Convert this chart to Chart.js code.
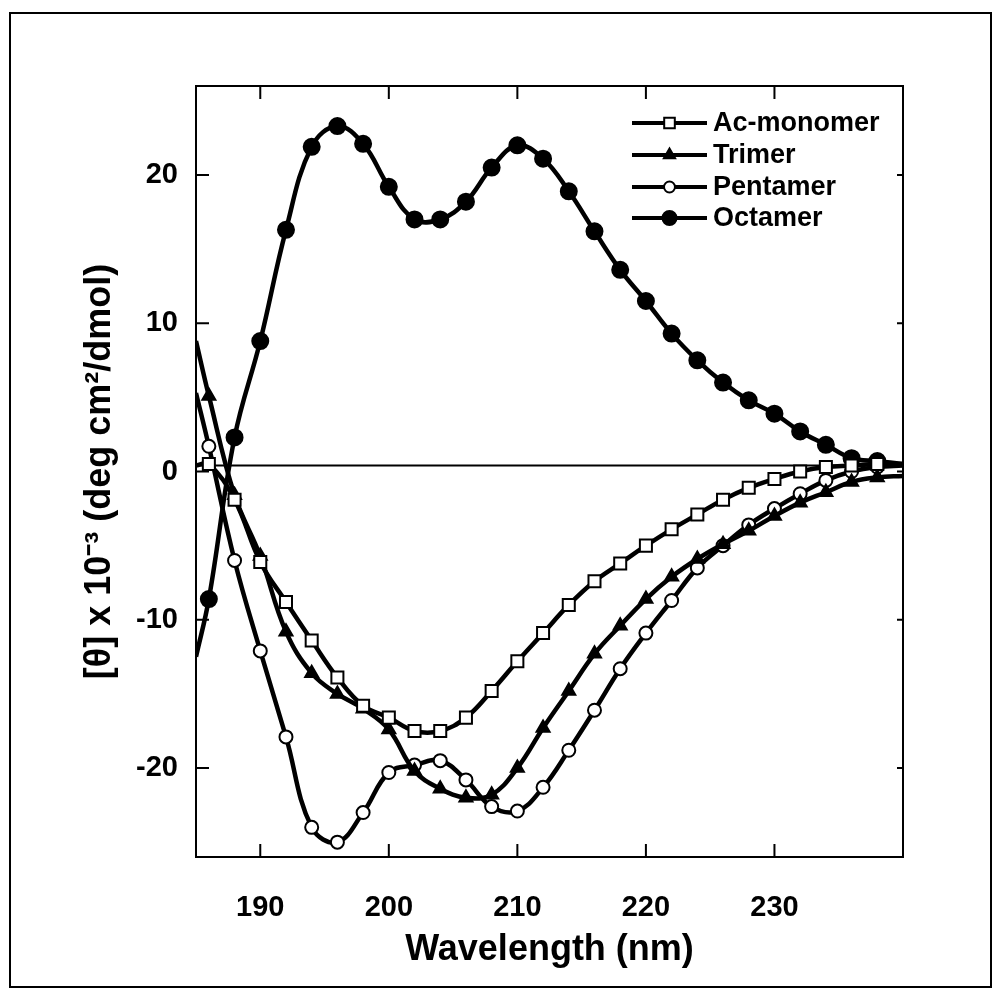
<!DOCTYPE html>
<html><head><meta charset="utf-8">
<script src="https://cdn.jsdelivr.net/npm/chart.js@4.4.1/dist/chart.umd.min.js"></script>
<style>html,body{margin:0;padding:0;background:#fff;}canvas{display:block;}</style>
</head><body>
<canvas id="c" width="1000" height="996"></canvas>
<script>
const wavelengths = [185,186,188,190,192,194,196,198,200,202,204,206,208,210,212,214,216,218,220,222,224,226,228,230,232,234,236,238,240];
const acMonomer = [0.4,0.5,-1.9,-6.1,-8.8,-11.4,-13.9,-15.8,-16.6,-17.5,-17.5,-16.6,-14.8,-12.8,-10.9,-9.0,-7.4,-6.2,-5.0,-3.9,-2.9,-1.9,-1.1,-0.5,0.0,0.3,0.4,0.5,0.5];
const trimer = [8.8,5.1,-1.6,-5.7,-10.8,-13.6,-15.0,-16.0,-17.4,-20.2,-21.4,-22.0,-21.8,-20.0,-17.3,-14.8,-12.3,-10.4,-8.6,-7.1,-5.9,-4.9,-4.0,-3.0,-2.1,-1.4,-0.7,-0.4,-0.3];
const pentamer = [5.3,1.7,-6.0,-12.1,-17.9,-24.0,-25.0,-23.0,-20.3,-19.8,-19.5,-20.8,-22.6,-22.9,-21.3,-18.8,-16.1,-13.3,-10.9,-8.7,-6.5,-5.0,-3.6,-2.5,-1.5,-0.6,0.0,0.3,0.4];
const octamer = [-12.5,-8.6,2.3,8.8,16.3,21.9,23.3,22.1,19.2,17.0,17.0,18.2,20.5,22.0,21.1,18.9,16.2,13.6,11.5,9.3,7.5,6.0,4.8,3.9,2.7,1.8,0.9,0.7,0.5];
const seriesNames = ['Ac-monomer','Trimer','Pentamer','Octamer'];
const xTicks = [190,200,210,220,230];
const yTicks = [-20,-10,0,10,20];
const baselineY = [0.4,0.4];
const baselineX = [185,240];

const FONT = "'Liberation Sans', Arial, Helvetica, sans-serif";
const toPts = (arr) => arr.map((v,i)=>({x:wavelengths[i], y:v}));
const markerR = (r) => (c) => (c.dataIndex===0 || c.dataIndex===wavelengths.length-1) ? 0 : r;

const styles = [
  {pointStyle:'rect', radius:8.5, bg:'#fff'},
  {pointStyle:'triangle', radius:7.5, bg:'#000'},
  {pointStyle:'circle', radius:6.5, bg:'#fff'},
  {pointStyle:'circle', radius:8, bg:'#000'}
];
const seriesData = [acMonomer, trimer, pentamer, octamer];

const datasets = seriesData.map((d,i)=>({
  label: seriesNames[i],
  data: toPts(d),
  borderColor:'#000',
  borderWidth:4.5,
  backgroundColor: styles[i].bg,
  pointStyle: styles[i].pointStyle,
  pointRadius: markerR(styles[i].radius),
  pointHoverRadius: markerR(styles[i].radius),
  pointBackgroundColor: styles[i].bg,
  pointBorderColor:'#000',
  pointBorderWidth:2,
  tension:0.4,
  fill:false
}));
datasets.push({
  label:'baseline',
  data: baselineX.map((x,i)=>({x, y:baselineY[i]})),
  borderColor:'#000', borderWidth:2, pointRadius:0, fill:false, tension:0
});

const framePlugin = {
  id:'frame',
  afterDraw(chart){
    const {ctx, chartArea:a, scales:{x,y}} = chart;
    ctx.save();
    ctx.strokeStyle='#000';
    ctx.lineWidth=2;
    ctx.strokeRect(a.left, a.top, a.right-a.left, a.bottom-a.top);
    ctx.strokeRect(10,13,981,974);
    ctx.beginPath();
    xTicks.forEach(v=>{
      const px = x.getPixelForValue(v);
      ctx.moveTo(px,a.bottom); ctx.lineTo(px,a.bottom-13);
      ctx.moveTo(px,a.top); ctx.lineTo(px,a.top+13);
    });
    yTicks.forEach(v=>{
      const py = y.getPixelForValue(v);
      ctx.moveTo(a.left,py); ctx.lineTo(a.left+13,py);
      ctx.moveTo(a.right,py); ctx.lineTo(a.right-6,py);
    });
    ctx.stroke();
    // legend
    const lx0 = a.right-271, lx1 = a.right-196, tx = a.right-190;
    const rowY = [a.top+37, a.top+69, a.top+101, a.top+132];
    ctx.font = "bold 27px " + FONT;
    ctx.textBaseline='middle';
    ctx.textAlign='left';
    seriesNames.forEach((name,i)=>{
      const yy = rowY[i];
      ctx.beginPath();
      ctx.lineWidth=4;
      ctx.moveTo(lx0,yy); ctx.lineTo(lx1,yy); ctx.stroke();
      ctx.fillStyle = styles[i].bg;
      ctx.strokeStyle='#000';
      ctx.lineWidth=2;
      Chart.helpers.drawPoint(ctx,{pointStyle:styles[i].pointStyle, radius:styles[i].radius-1, rotation:0, borderWidth:2}, (lx0+lx1)/2, yy);
      ctx.fillStyle='#000';
      ctx.fillText(name, tx, yy+1);
    });
    ctx.restore();
  }
};

new Chart(document.getElementById('c'), {
  type:'line',
  data:{datasets},
  plugins:[framePlugin],
  options:{
    responsive:false,
    animation:false,
    events:[],
    layout:{padding:{left:0, top:86, right:97, bottom:0}},
    plugins:{legend:{display:false}, tooltip:{enabled:false}},
    scales:{
      x:{
        type:'linear', min:185, max:240,
        afterBuildTicks:(s)=>{ s.ticks = xTicks.map(v=>({value:v})); },
        afterFit:(s)=>{ s.height = 139; },
        grid:{display:false, drawTicks:false},
        border:{display:false},
        ticks:{color:'#000', font:{family:FONT, size:29, weight:'bold'}, padding:34, maxRotation:0, autoSkip:false},
        title:{display:true, text:'Wavelength (nm)', color:'#000', font:{family:FONT, size:36, weight:'bold'}, padding:{top:0, bottom:24}}
      },
      y:{
        type:'linear', min:-26, max:26,
        afterBuildTicks:(s)=>{ s.ticks = yTicks.map(v=>({value:v})); },
        afterFit:(s)=>{ s.width = 196; },
        grid:{display:false, drawTicks:false},
        border:{display:false},
        ticks:{color:'#000', font:{family:FONT, size:29, weight:'bold'}, padding:18, autoSkip:false},
        title:{display:true, text:'[θ] x 10⁻³ (deg cm²/dmol)', color:'#000', font:{family:FONT, size:36, weight:'bold'}, padding:{top:78, bottom:0}}
      }
    }
  }
});
</script>
</body></html>
